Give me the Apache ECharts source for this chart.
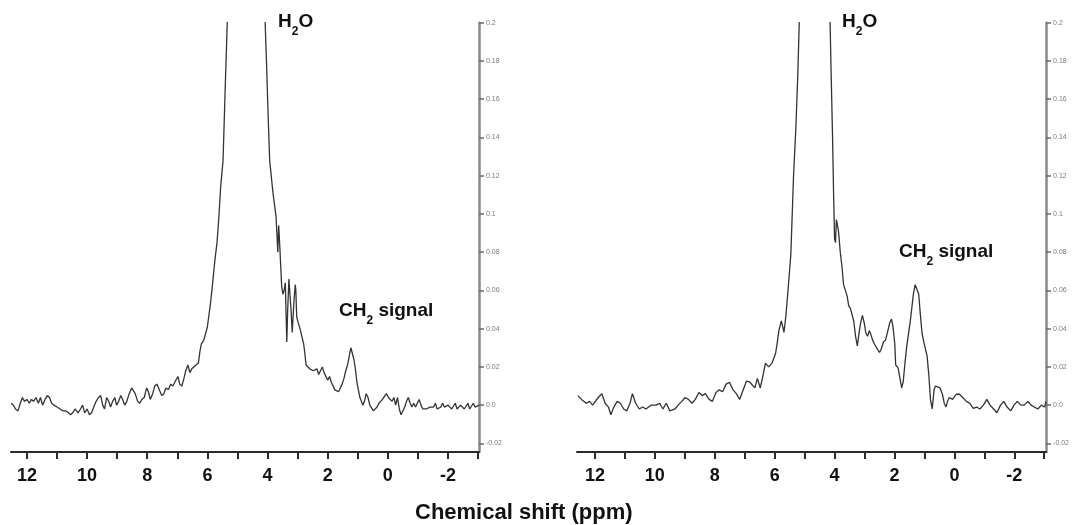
<!DOCTYPE html>
<html>
<head>
<meta charset="utf-8">
<script src="https://cdn.jsdelivr.net/npm/echarts@6/dist/echarts.min.js"></script>
<style>html,body{margin:0;padding:0;background:#fff;}#c{width:1072px;height:525px;}</style>
</head>
<body>
<div id="c"></div>
<script>
// ---- data (ppm, intensity) ----
const leftSpectrum = [
[12.52,0.001],[12.45,0.000],[12.38,-0.002],[12.30,-0.003],[12.22,0.001],[12.15,0.004],[12.08,0.002],[12.00,0.003],
[11.92,0.001],[11.85,0.003],[11.78,0.002],[11.70,0.004],[11.62,0.001],[11.55,0.004],[11.48,0.000],[11.40,0.003],
[11.32,0.005],[11.25,0.004],[11.18,0.001],[11.10,0.000],[11.00,-0.001],[10.90,-0.002],[10.80,-0.003],[10.70,-0.003],
[10.62,-0.004],[10.55,-0.005],[10.48,-0.004],[10.40,-0.002],[10.35,-0.001],[10.30,-0.004],[10.22,-0.002],[10.15,0.000],
[10.08,-0.004],[10.00,-0.002],[9.92,-0.005],[9.85,-0.004],[9.78,-0.001],[9.70,0.002],[9.62,0.004],[9.55,0.005],
[9.48,0.000],[9.42,-0.002],[9.35,0.004],[9.28,0.002],[9.22,-0.001],[9.15,0.002],[9.08,0.004],[9.02,0.000],
[8.95,0.002],[8.88,0.005],[8.82,0.003],[8.75,0.000],[8.68,0.002],[8.60,0.006],[8.52,0.009],[8.46,0.010],
[8.40,0.006],[8.32,0.002],[8.25,0.001],[8.18,0.003],[8.10,0.004],[8.02,0.009],[7.96,0.007],[7.90,0.003],
[7.82,0.006],[7.75,0.010],[7.68,0.011],[7.60,0.008],[7.52,0.005],[7.45,0.006],[7.38,0.009],[7.30,0.008],
[7.22,0.011],[7.15,0.010],[7.05,0.013],[6.98,0.015],[6.92,0.011],[6.85,0.010],[6.78,0.014],[6.72,0.018],
[6.65,0.021],[6.58,0.017],[6.52,0.019],[6.45,0.020],[6.38,0.021],[6.30,0.022],[6.25,0.028],[6.20,0.032],
[6.12,0.034],[6.05,0.038],[6.00,0.041],[5.95,0.047],[5.90,0.053],[5.85,0.060],[5.80,0.068],[5.75,0.076],
[5.68,0.085],[5.62,0.098],[5.56,0.114],[5.48,0.128],[5.40,0.17],[5.34,0.2],[5.15,0.4],[4.7,1.0],
[4.25,0.4],[4.08,0.2],[4.03,0.177],[3.98,0.151],[3.93,0.128],[3.82,0.111],[3.72,0.099],[3.69,0.090],
[3.66,0.080],[3.63,0.094],[3.61,0.095],[3.59,0.082],[3.56,0.072],[3.53,0.062],[3.49,0.058],[3.45,0.060],
[3.41,0.064],[3.38,0.045],[3.36,0.033],[3.33,0.050],[3.29,0.066],[3.26,0.065],[3.22,0.050],[3.18,0.038],
[3.15,0.037],[3.12,0.055],[3.08,0.063],[3.06,0.060],[3.03,0.046],[2.98,0.043],[2.92,0.040],[2.86,0.036],
[2.80,0.032],[2.76,0.027],[2.72,0.021],[2.66,0.020],[2.60,0.019],[2.54,0.020],[2.48,0.018],[2.42,0.017],
[2.36,0.019],[2.30,0.016],[2.24,0.018],[2.18,0.020],[2.12,0.017],[2.06,0.016],[2.00,0.013],[1.94,0.015],
[1.88,0.012],[1.82,0.011],[1.76,0.008],[1.70,0.009],[1.64,0.007],[1.58,0.008],[1.52,0.011],[1.46,0.014],
[1.40,0.018],[1.34,0.021],[1.28,0.026],[1.23,0.030],[1.18,0.029],[1.13,0.024],[1.08,0.019],[1.03,0.012],
[0.98,0.008],[0.93,0.004],[0.88,0.002],[0.83,0.000],[0.78,0.002],[0.72,0.006],[0.66,0.004],[0.60,0.000],
[0.54,-0.001],[0.48,-0.003],[0.42,-0.002],[0.36,-0.001],[0.30,0.001],[0.24,0.000],[0.18,0.003],[0.12,0.004],
[0.05,0.006],[-0.02,0.004],[-0.08,0.005],[-0.14,0.002],[-0.20,0.004],[-0.26,0.000],[-0.32,0.004],[-0.38,-0.002],
[-0.44,-0.005],[-0.50,-0.004],[-0.56,-0.001],[-0.62,0.002],[-0.68,0.004],[-0.74,0.001],[-0.80,-0.001],[-0.86,0.001],
[-0.92,-0.001],[-0.98,0.001],[-1.04,0.003],[-1.10,0.000],[-1.16,-0.002],[-1.22,-0.003],[-1.28,-0.002],[-1.34,-0.003],
[-1.40,-0.001],[-1.46,-0.002],[-1.52,-0.001],[-1.58,0.001],[-1.64,-0.002],[-1.70,-0.001],[-1.76,-0.001],[-1.82,0.001],
[-1.88,-0.001],[-1.94,-0.002],[-2.00,0.000],[-2.06,-0.001],[-2.12,-0.002],[-2.18,-0.001],[-2.24,0.001],[-2.30,-0.002],
[-2.36,-0.002],[-2.42,0.000],[-2.48,0.001],[-2.54,-0.002],[-2.60,-0.001],[-2.66,0.001],[-2.72,-0.002],[-2.78,-0.001],
[-2.84,0.001],[-2.90,-0.001],[-2.96,0.000],[-3.03,0.000]
];
const rightSpectrum = [
[12.57,0.005],[12.45,0.003],[12.29,0.001],[12.18,0.002],[12.08,0.000],[11.89,0.004],[11.77,0.006],[11.66,0.001],
[11.55,-0.001],[11.47,-0.005],[11.37,-0.001],[11.26,0.002],[11.15,0.001],[11.04,-0.002],[10.94,-0.003],[10.83,0.001],
[10.75,0.006],[10.64,0.001],[10.52,-0.002],[10.41,-0.001],[10.30,-0.002],[10.13,0.000],[9.96,0.000],[9.84,0.001],
[9.73,-0.002],[9.62,0.001],[9.50,-0.003],[9.33,-0.002],[9.22,0.000],[9.10,0.002],[8.99,0.004],[8.88,0.003],
[8.76,0.001],[8.65,0.003],[8.53,0.0066],[8.42,0.005],[8.31,0.006],[8.19,0.003],[8.08,0.002],[7.96,0.0066],
[7.85,0.008],[7.74,0.007],[7.62,0.011],[7.51,0.012],[7.39,0.008],[7.28,0.006],[7.17,0.003],[7.05,0.008],
[6.94,0.0126],[6.83,0.012],[6.77,0.013],[6.66,0.009],[6.58,0.014],[6.48,0.009],[6.43,0.008],[6.37,0.017],
[6.31,0.022],[6.20,0.020],[6.09,0.022],[5.97,0.027],[5.92,0.032],[5.86,0.039],[5.78,0.044],[5.73,0.041],
[5.69,0.038],[5.63,0.046],[5.57,0.057],[5.52,0.067],[5.46,0.079],[5.37,0.12],[5.29,0.146],[5.23,0.172],
[5.18,0.2],[5.0,0.4],[4.65,1.0],[4.3,0.45],[4.15,0.2],[4.12,0.177],[4.07,0.142],[4.03,0.108],
[4.00,0.087],[3.97,0.085],[3.94,0.097],[3.92,0.098],[3.89,0.097],[3.87,0.091],[3.81,0.080],[3.75,0.072],
[3.70,0.063],[3.64,0.063],[3.58,0.057],[3.53,0.052],[3.47,0.0505],[3.41,0.051],[3.36,0.044],[3.30,0.036],
[3.24,0.031],[3.19,0.037],[3.13,0.043],[3.07,0.047],[3.01,0.043],[2.96,0.038],[2.90,0.036],[2.84,0.039],
[2.79,0.037],[2.73,0.034],[2.67,0.032],[2.62,0.0315],[2.56,0.029],[2.50,0.0276],[2.45,0.029],[2.37,0.033],
[2.30,0.034],[2.22,0.039],[2.16,0.043],[2.10,0.045],[2.05,0.041],[1.99,0.032],[1.96,0.021],[1.88,0.0195],
[1.82,0.0143],[1.76,0.009],[1.71,0.012],[1.65,0.022],[1.59,0.031],[1.54,0.032],[1.48,0.043],[1.42,0.051],
[1.37,0.058],[1.31,0.063],[1.25,0.064],[1.19,0.058],[1.14,0.048],[1.08,0.0376],[1.02,0.033],[0.97,0.032],
[0.91,0.0255],[0.85,0.015],[0.80,0.003],[0.74,-0.002],[0.68,0.008],[0.63,0.010],[0.57,0.009],[0.48,0.009],
[0.40,0.0057],[0.34,0.001],[0.28,-0.001],[0.23,0.002],[0.17,0.004],[0.06,0.003],[-0.06,0.0057],[-0.17,0.0057],
[-0.28,0.004],[-0.40,0.002],[-0.51,0.001],[-0.63,-0.0017],[-0.74,-0.001],[-0.85,-0.002],[-0.97,0.000],[-1.08,0.003],
[-1.19,0.000],[-1.31,-0.002],[-1.42,-0.004],[-1.54,0.000],[-1.65,0.002],[-1.76,-0.001],[-1.88,-0.003],[-1.99,0.000],
[-2.10,0.002],[-2.22,0.000],[-2.33,0.000],[-2.45,0.002],[-2.56,0.000],[-2.67,-0.001],[-2.79,-0.002],[-2.90,0.000],
[-3.01,-0.001],[-3.06,0.002]
];
const xTickValues = [-3,-2,-1,0,1,2,3,4,5,6,7,8,9,10,11,12];
const xLabelValues = [-2,0,2,4,6,8,10,12];
const yTickValues = [-0.02,0,0.02,0.04,0.06,0.08,0.1,0.12,0.14,0.16,0.18,0.2];
const yTickLabels = ['-0.02','0.0','0.02','0.04','0.06','0.08','0.1','0.12','0.14','0.16','0.18','0.2'];
const axisTitle = 'Chemical shift (ppm)';

const FONT = '"Liberation Sans", Arial, sans-serif';
const chart = echarts.init(document.getElementById('c'), null, {renderer: 'canvas'});

function xAxisCfg(gi, max, min) {
  return {
    type: 'value', gridIndex: gi, inverse: true, min: min, max: max,
    axisLine: {onZero: false, lineStyle: {color: '#2a2a2a', width: 2}},
    axisTick: {customValues: xTickValues, length: 7, inside: false, lineStyle: {color: '#2a2a2a', width: 2}},
    axisLabel: {customValues: xLabelValues, margin: 15, fontSize: 18, fontWeight: 'bold', color: '#111', fontFamily: FONT},
    splitLine: {show: false}
  };
}
function yAxisCfg(gi) {
  return {
    type: 'value', gridIndex: gi, position: 'right', min: -0.0245, max: 0.2,
    axisLine: {show: true, onZero: false, lineStyle: {color: '#8a8a8a', width: 2.5}},
    axisTick: {show: true, customValues: yTickValues, length: 5, lineStyle: {color: '#6a6a6a', width: 1.5}},
    axisLabel: {customValues: yTickValues, margin: 7, fontSize: 7, color: '#7a7a7a', fontFamily: FONT,
      formatter: function (v) {
        for (let i = 0; i < yTickValues.length; i++) if (Math.abs(yTickValues[i] - v) < 1e-9) return yTickLabels[i];
        return '';
      }},
    splitLine: {show: false}
  };
}
const richStyles = {
  b: {fontSize: 19, fontWeight: 'bold', fontFamily: FONT, fill: '#111', lineHeight: 26, verticalAlign: 'top'},
  s: {fontSize: 12, fontWeight: 'bold', fontFamily: FONT, fill: '#111', lineHeight: 12, verticalAlign: 'top', padding: [14, 0, 0, 0]}
};
function label(x, y, txt) {
  return {type: 'text', left: x, top: y, style: {text: txt, rich: richStyles, fill: '#111'}};
}

chart.setOption({
  animation: false,
  backgroundColor: '#fff',
  grid: [
    {left: 11, top: 22.7, width: 468, height: 429.3},
    {left: 577, top: 22.7, width: 470, height: 429.3}
  ],
  xAxis: [xAxisCfg(0, 12.53, -3.03), xAxisCfg(1, 12.6, -3.06)],
  yAxis: [yAxisCfg(0), yAxisCfg(1)],
  series: [
    {type: 'line', xAxisIndex: 0, yAxisIndex: 0, data: leftSpectrum, showSymbol: false, clip: true,
     lineStyle: {color: '#333', width: 1.3}},
    {type: 'line', xAxisIndex: 1, yAxisIndex: 1, data: rightSpectrum, showSymbol: false, clip: true,
     lineStyle: {color: '#333', width: 1.3}}
  ],
  graphic: [
    label(278, 12, '{b|H}{s|2}{b|O}'),
    label(842, 12, '{b|H}{s|2}{b|O}'),
    label(339, 301, '{b|CH}{s|2}{b| signal}'),
    label(899, 242, '{b|CH}{s|2}{b| signal}'),
    {type: 'text', left: 415, top: 502, style: {text: axisTitle, fontSize: 22, fontWeight: 'bold', fontFamily: FONT, fill: '#111'}}
  ]
});
</script>
</body>
</html>
